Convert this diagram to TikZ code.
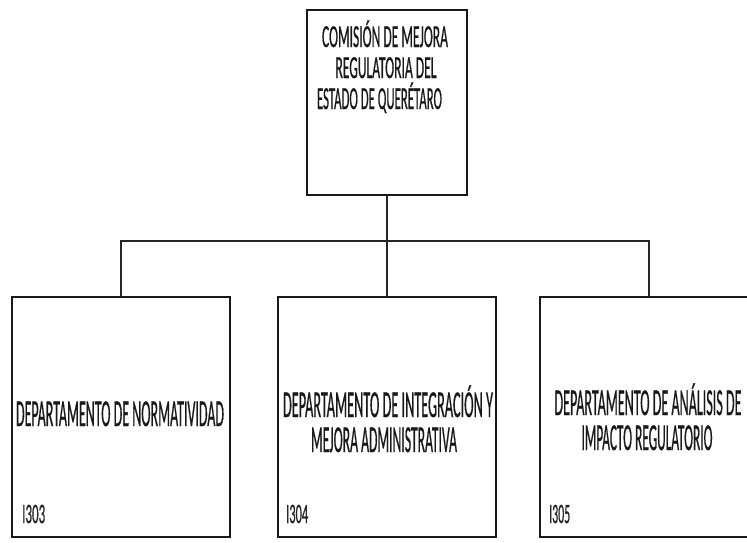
\documentclass[tikz,border=0pt]{standalone}
\usepackage{fontspec}
\setmainfont{Carlito}[FakeBold=1]
\usepackage{graphicx}
\newcommand\fitw[3]{\resizebox{#1pt}{\height}{\fontsize{#2}{#2}\selectfont #3}}
\tikzset{
  box/.style={draw=black!90, line width=1.5pt, fill=none, inner sep=0pt},
  conn/.style={draw=black!85, line width=1.4pt},
  txt/.style={inner sep=0pt, anchor=base, text=black!90},
  code/.style={inner sep=0pt, anchor=base west, text=black!85},
}
\begin{document}
\begin{tikzpicture}[x=1pt, y=-1pt]
\clip (0,0) rectangle (747,542);
\fill[white] (0,0) rectangle (747,542);
% boxes
\node[box, minimum width=160pt, minimum height=185pt] (top) at (387,102.5) {};
\node[box, minimum width=218pt, minimum height=240pt] (left) at (121,417) {};
\node[box, minimum width=218pt, minimum height=240pt] (mid) at (387,417) {};
\node[box, minimum width=218pt, minimum height=240pt] (right) at (649,417) {};
% connectors
\coordinate (bus) at (387,241);
\draw[conn] (top.south) -- (mid.north);
\draw[conn] (left.north) |- (bus) -| (right.north);
% texts top
\node[txt] (t1) at (385,47) {\fitw{126}{32}{COMISIÓN DE MEJORA}};
\node[txt] (t2) at (386,78) {\fitw{101}{32}{REGULATORIA DEL}};
\node[txt] (t3) at (379.5,109) {\fitw{125}{32}{ESTADO DE QUERÉTARO}};
% left
\node[txt] (l1) at (120,426) {\fitw{208}{38}{DEPARTAMENTO DE NORMATIVIDAD}};
\node[code] (lc) at (22,523) {\fitw{23}{28}{I303}};
% middle
\node[txt] (m1) at (388,417) {\fitw{210}{38}{DEPARTAMENTO DE INTEGRACIÓN Y}};
\node[txt] (m2) at (384,452) {\fitw{146}{38}{MEJORA ADMINISTRATIVA}};
\node[code] (mc) at (286,523) {\fitw{22}{28}{I304}};
% right
\node[txt] (r1) at (648,415) {\fitw{187}{38}{DEPARTAMENTO DE ANÁLISIS DE}};
\node[txt] (r2) at (647,450) {\fitw{131}{38}{IMPACTO REGULATORIO}};
\node[code] (rc) at (549,523) {\fitw{21}{28}{I305}};
\end{tikzpicture}
\end{document}
